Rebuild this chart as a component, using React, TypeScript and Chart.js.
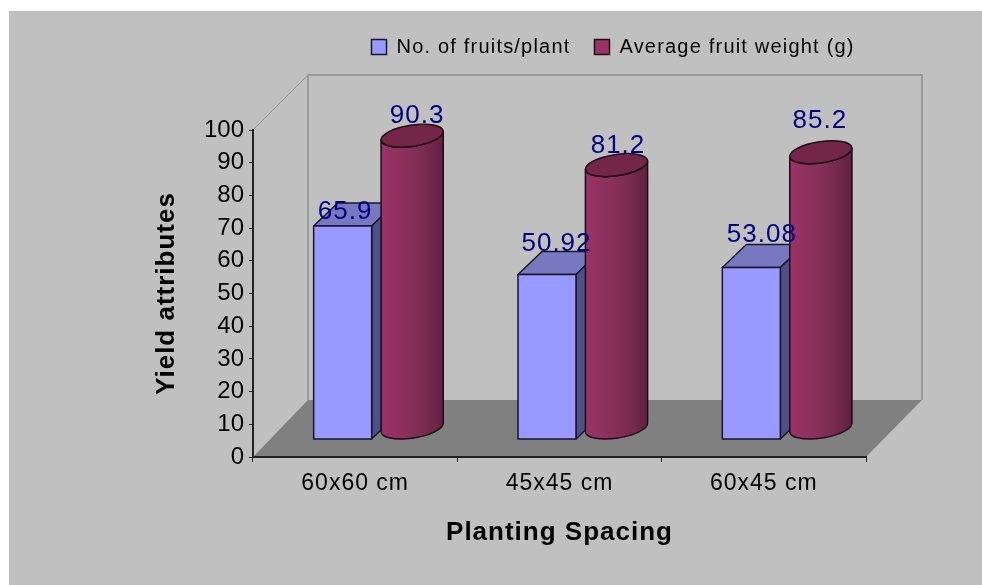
import React, { useEffect, useRef } from "react";
import { Chart, registerables, LinearScale, CategoryScale } from "chart.js";

Chart.register(...registerables);

// Axis whose tick labels are set tight, as in the original.
class TightLinearScale extends (LinearScale as any) {
  static id = "tightLinear";
  static defaults = (LinearScale as any).defaults;
  drawLabels(area: any) {
    const ctx = (this as any).ctx;
    const prev = ctx.letterSpacing;
    ctx.letterSpacing = "0px";
    super.drawLabels(area);
    ctx.letterSpacing = prev;
  }
  drawTitle() {
    const ctx = (this as any).ctx;
    const prev = ctx.letterSpacing;
    ctx.letterSpacing = "1px";
    super.drawTitle();
    ctx.letterSpacing = prev;
  }
}
// Axis whose labels are drawn with a 1px tracking.
class TrackedCategoryScale extends (CategoryScale as any) {
  static id = "trackedCategory";
  static defaults = (CategoryScale as any).defaults;
  drawLabels(area: any) {
    const ctx = (this as any).ctx;
    const prev = ctx.letterSpacing;
    ctx.letterSpacing = "1px";
    super.drawLabels(area);
    ctx.letterSpacing = prev;
  }
  drawTitle() {
    const ctx = (this as any).ctx;
    const prev = ctx.letterSpacing;
    ctx.letterSpacing = "1px";
    super.drawTitle();
    ctx.letterSpacing = prev;
  }
}
Chart.register(TightLinearScale as any, TrackedCategoryScale as any);

const categories = ["60x60 cm", "45x45 cm", "60x45 cm"];
const fruitsPerPlant = [65.9, 50.92, 53.08];
const fruitWeight = [90.3, 81.2, 85.2];
const fruitLabels = ["65.9", "50.92", "53.08"];
const weightLabels = ["90.3", "81.2", "85.2"];

// Hand-placed data label nudges of the original, in pixels from each mark's top.
const fruitLabelNudge = [[2, -7], [9, -23], [10, -25]];
const weightLabelNudge = [[5, -12.5], [1.5, -12], [-1, -24]];

const FONT = "'Liberation Sans', Arial, sans-serif";
const DEPTH_X = 55;
const DEPTH_Y = 57;

const setSpacing = (chart: any) => {
  chart.ctx.letterSpacing = "1.2px";
};

function drawBox(ctx: any, el: any) {
  const dx = 17.5, dy = -18, h = 29, dX = 24, dY = -23;
  const cx = el.x + dx;
  const l = cx - h, r = cx + h, t = el.y + dy, b = el.base + dy;
  ctx.lineWidth = 1.5;
  ctx.strokeStyle = "#16162a";
  ctx.lineJoin = "round";
  ctx.fillStyle = "#7878c0";
  ctx.beginPath();
  ctx.moveTo(l, t); ctx.lineTo(l + dX, t + dY); ctx.lineTo(r + dX, t + dY); ctx.lineTo(r, t);
  ctx.closePath(); ctx.fill(); ctx.stroke();
  ctx.fillStyle = "#505088";
  ctx.beginPath();
  ctx.moveTo(r, t); ctx.lineTo(r + dX, t + dY); ctx.lineTo(r + dX, b + dY); ctx.lineTo(r, b);
  ctx.closePath(); ctx.fill(); ctx.stroke();
  ctx.fillStyle = "#9999ff";
  ctx.beginPath();
  ctx.rect(l, t, r - l, b - t);
  ctx.fill(); ctx.stroke();
}

function drawCylinder(ctx: any, el: any) {
  const dx = 27, dy = -29.5, rx = 31.4, ry = 10.6, tilt = 0.15;
  const cx = el.x + dx, top = el.y + dy, base = el.base + dy;
  const t0 = Math.atan2(ry * Math.sin(tilt), rx * Math.cos(tilt));
  const xExt = rx * Math.cos(t0) * Math.cos(tilt) + ry * Math.sin(t0) * Math.sin(tilt);
  const grad = ctx.createLinearGradient(cx - xExt, 0, cx + xExt, 0);
  grad.addColorStop(0, "#9a3366");
  grad.addColorStop(0.45, "#88305a");
  grad.addColorStop(0.75, "#762a4e");
  grad.addColorStop(1, "#60203f");
  ctx.lineWidth = 1.5;
  ctx.strokeStyle = "#1c0a14";
  ctx.fillStyle = grad;
  ctx.beginPath();
  ctx.ellipse(cx, base, rx, ry, -tilt, t0, t0 + Math.PI, false);
  ctx.ellipse(cx, top, rx, ry, -tilt, t0 + Math.PI, t0, true);
  ctx.closePath();
  ctx.fill(); ctx.stroke();
  ctx.fillStyle = "#732648";
  ctx.beginPath();
  ctx.ellipse(cx, top, rx, ry, -tilt, 0, Math.PI * 2);
  ctx.closePath();
  ctx.fill(); ctx.stroke();
}

const threeD = {
  id: "threeD",
  beforeUpdate: setSpacing,
  afterLayout(chart: any) {
    const lg = chart.legend;
    lg.left = 347.5; lg.right = 982; lg.top = 13; lg.bottom = 67;
  },
  beforeDraw(chart: any) {
    setSpacing(chart);
    const { ctx, chartArea: a } = chart;
    ctx.save();
    ctx.fillStyle = "#c0c0c0";
    ctx.fillRect(9, 11, 973, 574);
    // floor
    ctx.fillStyle = "#808080";
    ctx.beginPath();
    ctx.moveTo(a.left, a.bottom);
    ctx.lineTo(a.left + DEPTH_X, a.bottom - DEPTH_Y);
    ctx.lineTo(a.right + DEPTH_X + 1, a.bottom - DEPTH_Y);
    ctx.lineTo(a.right, a.bottom);
    ctx.closePath();
    ctx.fill();
    // back wall outline and left wall edge
    ctx.strokeStyle = "#9a9a9a";
    ctx.lineWidth = 2;
    ctx.beginPath();
    ctx.moveTo(a.left + DEPTH_X, a.bottom - DEPTH_Y);
    ctx.lineTo(a.left + DEPTH_X, a.top - DEPTH_X);
    ctx.lineTo(a.right + DEPTH_X + 1, a.top - DEPTH_X);
    ctx.lineTo(a.right + DEPTH_X + 1, a.bottom - DEPTH_Y);
    ctx.stroke();
    ctx.beginPath();
    ctx.moveTo(a.left, a.top);
    ctx.lineTo(a.left + DEPTH_X, a.top - DEPTH_X);
    ctx.lineWidth = 1;
    ctx.stroke();
    ctx.restore();
  },
  beforeDatasetsDraw(chart: any) {
    const { ctx } = chart;
    ctx.save();
    chart.getDatasetMeta(0).data.forEach((el: any) => drawBox(ctx, el));
    chart.getDatasetMeta(1).data.forEach((el: any) => drawCylinder(ctx, el));
    ctx.restore();
  },
  beforeDatasetDraw() {
    return false;
  },
  afterDatasetsDraw(chart: any) {
    const { ctx } = chart;
    ctx.save();
    ctx.font = `26px ${FONT}`;
    ctx.letterSpacing = "1px";
    ctx.fillStyle = "#000080";
    ctx.textAlign = "center";
    ctx.textBaseline = "alphabetic";
    chart.getDatasetMeta(0).data.forEach((el: any, i: number) => {
      ctx.fillText(fruitLabels[i], el.x + 18 + fruitLabelNudge[i][0], el.y - 18 + fruitLabelNudge[i][1]);
    });
    chart.getDatasetMeta(1).data.forEach((el: any, i: number) => {
      ctx.fillText(weightLabels[i], el.x + 27 + weightLabelNudge[i][0], el.y - 29.5 + weightLabelNudge[i][1]);
    });
    ctx.restore();
  },
};

export default function App() {
  const ref = useRef<HTMLCanvasElement>(null);
  useEffect(() => {
    const chart = new Chart(ref.current as HTMLCanvasElement, {
      type: "bar",
      data: {
        labels: categories,
        datasets: [
          {
            label: "No. of fruits/plant",
            data: fruitsPerPlant,
            backgroundColor: "#9999ff",
            borderColor: "#16162a",
            borderWidth: 1.5,
            yAxisID: "yBars",
          },
          {
            label: "Average fruit weight (g)",
            data: fruitWeight,
            backgroundColor: "#993366",
            borderColor: "#1c0a14",
            borderWidth: 1.5,
            yAxisID: "yBars",
          },
        ],
      },
      options: {
        responsive: false,
        animation: false,
        layout: { padding: { left: 0, top: 76, right: 116, bottom: 0 } },
        datasets: { bar: { categoryPercentage: 0.5873, barPercentage: 1 } },
        plugins: {
          tooltip: { enabled: false },
          legend: {
            position: "top",
            align: "start",
            labels: {
              boxWidth: 15,
              boxHeight: 15,
              padding: 24,
              color: "#000",
              font: { family: FONT, size: 20 },
            },
          },
        },
        scales: {
          x: {
            type: "trackedCategory",
            offset: true,
            afterFit: (s: any) => { s.height = 128; },
            grid: { offset: true, drawOnChartArea: false, drawTicks: true, tickLength: 5, color: "#222" },
            border: { color: "#222", width: 2 },
            ticks: { color: "#000", padding: 8, maxRotation: 0, font: { family: FONT, size: 23 } },
            title: {
              display: true,
              text: "Planting Spacing",
              color: "#000",
              padding: { top: 0, bottom: 37 },
              font: { family: FONT, size: 26, weight: "bold" },
            },
          },
          y: {
            type: "tightLinear",
            min: 0,
            max: 100,
            afterFit: (s: any) => { s.width = 253; },
            grid: { drawOnChartArea: false, drawTicks: true, tickLength: 4, color: "#222" },
            border: { color: "#222", width: 2 },
            ticks: { stepSize: 10, color: "#000", padding: 5, font: { family: FONT, size: 24 } },
            title: {
              display: true,
              text: "Yield attributes",
              color: "#000",
              padding: { top: 151, bottom: 0 },
              font: { family: FONT, size: 26, weight: "bold" },
            },
          },
          yBars: { display: false, min: 0, max: 101.2 },
        },
      },
      plugins: [threeD],
    } as any);
    return () => chart.destroy();
  }, []);
  return (
    <div style={{ position: "absolute", left: 0, top: 0, width: 982, height: 585, background: "#fff" }}>
      <canvas ref={ref} width={982} height={585} style={{ display: "block" }} />
    </div>
  );
}
